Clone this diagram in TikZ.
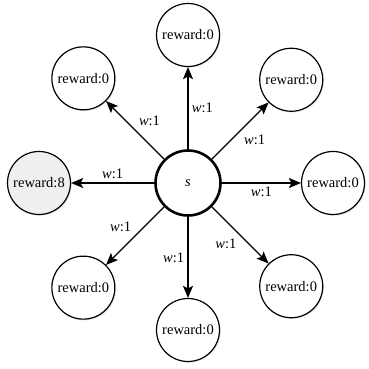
\documentclass[tikz,border=0pt]{standalone}
\usepackage{fontspec}
\setmainfont{Liberation Serif}
\usetikzlibrary{arrows.meta,shadows}
\definecolor{goalgray}{HTML}{EFEFEF}
\begin{document}
\begin{tikzpicture}[x=1pt,y=1pt,
    font=\fontsize{14.5pt}{17pt}\selectfont,
    reward/.style={circle,draw,line width=1.2pt,minimum size=63pt,inner sep=0pt,fill=white,
      drop shadow={shadow xshift=1.2pt,shadow yshift=-1.2pt,opacity=0.2}},
    source/.style={circle,draw,line width=2.6pt,minimum size=65pt,inner sep=0pt,fill=white,
      drop shadow={shadow xshift=1.2pt,shadow yshift=-1.2pt,opacity=0.2}},
    link/.style={-{Stealth[length=12pt,width=10pt,inset=2.5pt]},line width=1.2pt},
    weight/.style={auto,swap,midway}]
  \useasboundingbox (0,0) rectangle (368,369);
  \node[source] (s) at (188,186) {\textit{s}};
  \begin{scope}[shift={(188,186)}]
    \draw
      (90:148) node[reward] (0){reward:0}
      (45:146) node[reward] (1){reward:0}
      (0:145) node[reward] (2){reward:0}
      (-45:146) node[reward] (3){reward:0}
      (-90:147) node[reward] (4){reward:0}
      (-135:148) node[reward] (5){reward:0}
      (180:149) node[reward,fill=goalgray] (6){reward:8}
      (135:148) node[reward] (7){reward:0};
  \end{scope}
  \begin{scope}[link]
    \draw (s) to node[weight]{\textit{w}:1} (0);
    \draw (s) to node[weight]{\textit{w}:1} (1);
    \draw (s) to node[weight]{\textit{w}:1} (2);
    \draw (s) to node[weight]{\textit{w}:1} (3);
    \draw (s) to node[weight]{\textit{w}:1} (4);
    \draw (s) to node[weight]{\textit{w}:1} (5);
    \draw (s) to node[weight]{\textit{w}:1} (6);
    \draw (s) to node[weight]{\textit{w}:1} (7);
  \end{scope}
\end{tikzpicture}
\end{document}
